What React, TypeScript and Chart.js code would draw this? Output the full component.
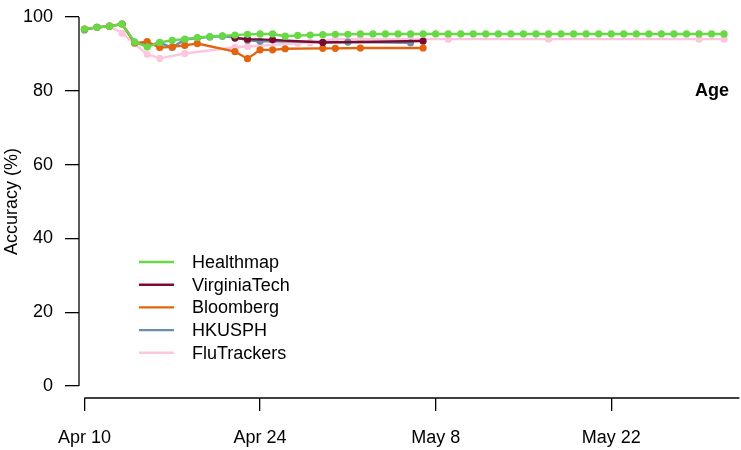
import React, { useEffect, useRef } from "react";
import { Chart, registerables } from "chart.js";

Chart.register(...registerables);

// x values are days since Apr 10
const tickDays = [0, 14, 28, 42];
const tickLabels = ["Apr 10", "Apr 24", "May 8", "May 22"];
const yTicks = [0, 20, 40, 60, 80, 100];

const healthmapDays = [
  0, 1, 2, 3, 4, 5, 6, 7, 8, 9, 10, 11, 12, 13, 14, 15, 16, 17, 18, 19, 20, 21, 22, 23, 24, 25,
  26, 27, 28, 29, 30, 31, 32, 33, 34, 35, 36, 37, 38, 39, 40, 41, 42, 43, 44, 45, 46, 47, 48, 49, 50, 51,
];
const healthmapValues = [
  96.7, 97.2, 97.5, 98.1, 93.2, 91.9, 93.1, 93.7, 94.0, 94.4, 94.7, 94.9, 95.1, 95.3, 95.4, 95.4,
  94.8, 95.0, 95.1, 95.2, 95.3, 95.3, 95.4, 95.4, 95.4, 95.4, 95.4, 95.4, 95.4, 95.4, 95.4, 95.4,
  95.4, 95.4, 95.4, 95.4, 95.4, 95.4, 95.4, 95.4, 95.4, 95.4, 95.4, 95.4, 95.4, 95.4, 95.4, 95.4,
  95.4, 95.4, 95.4, 95.4,
];

const virginiaTechDays = [12, 13, 15, 19, 27];
const virginiaTechValues = [94.3, 94.0, 93.8, 93.1, 93.5];

const bloombergDays = [0, 1, 2, 3, 4, 5, 6, 7, 8, 9, 12, 13, 14, 15, 16, 19, 20, 22, 27];
const bloombergValues = [
  96.7, 97.2, 97.5, 98.1, 92.9, 93.3, 91.7, 91.9, 92.3, 92.8, 90.6, 88.7, 91.1, 91.1, 91.4, 91.5,
  91.5, 91.6, 91.6,
];

const hkusphDays = [0, 1, 2, 3, 4, 5, 6, 7, 8, 9, 10, 11, 12, 13, 14, 21, 26];
const hkusphValues = [
  96.5, 97.2, 97.5, 98.1, 93.2, 92.3, 93.0, 91.7, 93.9, 94.3, 94.6, 94.8, 94.5, 93.7, 93.4, 93.2, 93.0,
];

const fluTrackersDays = [0, 1, 2, 3, 5, 6, 8, 12, 13, 17, 18, 20, 22, 26, 29, 37, 49, 51];
const fluTrackersValues = [
  96.7, 97.2, 97.5, 95.6, 89.9, 88.8, 90.1, 91.8, 92.0, 92.9, 93.1, 94.0, 94.0, 94.0, 94.0, 94.0,
  94.0, 94.0,
];

const seriesNames = ["Healthmap", "VirginiaTech", "Bloomberg", "HKUSPH", "FluTrackers"];
const seriesColors = ["#66D944", "#7A0B2E", "#E3640E", "#6A8FAE", "#FCC6DF"];
const panelLabel = "Age";
const yTitle = "Accuracy (%)";

const FONT = "'Liberation Sans', Arial, Helvetica, sans-serif";

export default function App() {
  const ref = useRef<HTMLCanvasElement>(null);

  useEffect(() => {
    document.body.style.margin = "0";
    const canvas = ref.current;
    if (!canvas) return;

    const mk = (i: number, days: number[], vals: number[]) => ({
      label: seriesNames[i],
      data: days.map((d, k) => ({ x: d, y: vals[k] })),
      borderColor: seriesColors[i],
      backgroundColor: seriesColors[i],
      pointBackgroundColor: seriesColors[i],
      pointBorderColor: seriesColors[i],
      pointBorderWidth: 0,
      pointRadius: 3.6,
      borderWidth: 2.4,
      tension: 0,
      fill: false,
    });

    const rPlugin = {
      id: "rStyle",
      afterDraw(chart: any) {
        const ctx = chart.ctx;
        const xs = chart.scales.x;
        const ys = chart.scales.y;
        const area = chart.chartArea;
        ctx.save();
        ctx.strokeStyle = "#000";
        ctx.lineWidth = 1.3;
        ctx.beginPath();
        ctx.moveTo(area.left, ys.getPixelForValue(yTicks[0]));
        ctx.lineTo(area.left, ys.getPixelForValue(yTicks[yTicks.length - 1]));
        ctx.stroke();
        ctx.beginPath();
        ctx.moveTo(xs.getPixelForValue(tickDays[0]), area.bottom);
        ctx.lineTo(area.right + 2, area.bottom);
        ctx.stroke();

        // legend
        const lx0 = 139;
        const lx1 = 174;
        const tx = 192;
        const y0 = 262;
        const dy = 22.7;
        ctx.font = `18px ${FONT}`;
        ctx.textBaseline = "middle";
        ctx.textAlign = "left";
        seriesNames.forEach((n, i) => {
          const y = y0 + i * dy;
          ctx.strokeStyle = seriesColors[i];
          ctx.lineWidth = 2.4;
          ctx.beginPath();
          ctx.moveTo(lx0, y);
          ctx.lineTo(lx1, y);
          ctx.stroke();
          ctx.fillStyle = "#000";
          ctx.fillText(n, tx, y + 1);
        });

        ctx.font = `bold 18px ${FONT}`;
        ctx.textAlign = "right";
        ctx.fillText(panelLabel, 729, 91);
        ctx.restore();
      },
    };

    const chart = new Chart(canvas, {
      type: "line",
      data: {
        datasets: [
          mk(0, healthmapDays, healthmapValues),
          mk(1, virginiaTechDays, virginiaTechValues),
          mk(2, bloombergDays, bloombergValues),
          mk(3, hkusphDays, hkusphValues),
          mk(4, fluTrackersDays, fluTrackersValues),
        ],
      },
      options: {
        animation: false,
        responsive: false,
        devicePixelRatio: 1,
        layout: { padding: { top: 5, right: 0, bottom: 0, left: 0 } },
        plugins: { legend: { display: false }, tooltip: { enabled: false } },
        elements: { point: { hoverRadius: 3.6 } },
        scales: {
          x: {
            type: "linear",
            min: -0.436,
            max: 52.06,
            afterFit: (s: any) => {
              s.height = 52;
              s.paddingLeft = 0;
              s.paddingRight = 0;
              s.paddingTop = 0;
              s.paddingBottom = 0;
            },
            afterBuildTicks: (s: any) => {
              s.ticks = tickDays.map((v) => ({ value: v }));
            },
            grid: { drawOnChartArea: false, drawTicks: true, tickLength: 13, color: "#000", lineWidth: 1.3 },
            border: { display: false },
            ticks: {
              padding: 16,
              color: "#000",
              font: { family: FONT, size: 18 },
              maxRotation: 0,
              autoSkip: false,
              callback: (v: any) => {
                const i = tickDays.indexOf(Number(v));
                return i >= 0 ? tickLabels[i] : "";
              },
            },
          },
          y: {
            type: "linear",
            min: -3.25,
            max: 103.25,
            afterFit: (s: any) => {
              s.width = 79;
              s.paddingLeft = 0;
              s.paddingRight = 0;
              s.paddingTop = 0;
              s.paddingBottom = 0;
            },
            afterBuildTicks: (s: any) => {
              s.ticks = yTicks.map((v) => ({ value: v }));
            },
            grid: { drawOnChartArea: false, drawTicks: true, tickLength: 14, color: "#000", lineWidth: 1.3 },
            border: { display: false },
            title: {
              display: true,
              text: yTitle,
              color: "#000",
              font: { family: FONT, size: 18 },
              padding: { top: 1, bottom: 0 },
            },
            ticks: {
              padding: 12,
              color: "#000",
              font: { family: FONT, size: 18 },
              autoSkip: false,
            },
          },
        },
      },
      plugins: [rPlugin],
    });

    return () => chart.destroy();
  }, []);

  return (
    <div style={{ position: "absolute", left: 0, top: 0, width: 741, height: 450 }}>
      <canvas ref={ref} width={741} height={450} style={{ width: 741, height: 450, display: "block" }} />
    </div>
  );
}
